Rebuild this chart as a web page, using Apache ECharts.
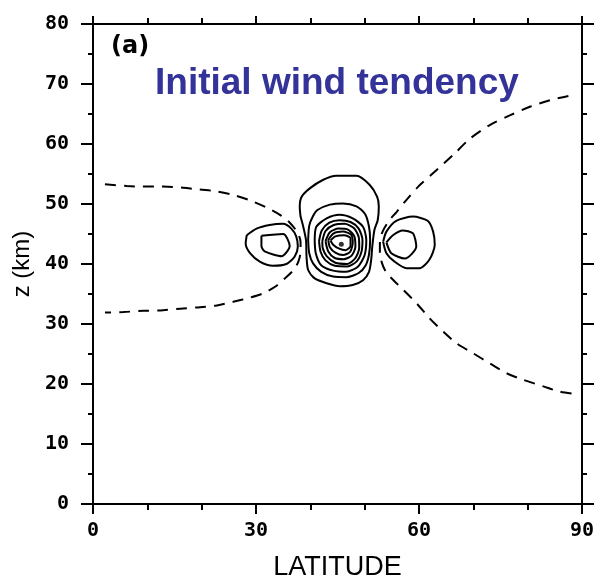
<!DOCTYPE html>
<html>
<head>
<meta charset="utf-8">
<script src="https://cdn.jsdelivr.net/npm/echarts@6/dist/echarts.min.js"></script>
<style>
  html, body { margin: 0; padding: 0; background: #fff; }
  #chart { width: 599px; height: 578px; }
</style>
</head>
<body>
<div id="chart"></div>
<script>
// Axis ranges and tick labels
const latTicks = [0, 30, 60, 90];
const zTicks = [0, 10, 20, 30, 40, 50, 60, 70, 80];

// Zero contours (dashed), [latitude, z km]
const zeroWest = [
  [2.2, 53.3], [6.2, 53.0], [9.3, 52.9], [12.9, 52.9], [16.6, 52.7], [19.7, 52.4],
  [22.8, 52.1], [25.8, 51.5], [28.9, 50.6], [32.0, 49.4], [34.4, 48.2], [36.3, 46.8],
  [37.5, 45.4], [38.2, 43.7], [38.2, 42.1], [37.8, 40.4], [36.9, 39.0], [35.3, 37.6],
  [33.5, 36.2], [31.3, 35.1], [28.9, 34.4], [25.8, 33.7], [22.8, 33.1], [19.7, 32.8],
  [16.6, 32.6], [12.9, 32.3], [9.3, 32.2], [5.6, 32.0], [2.2, 31.9]
];
const zeroEast = [
  [87.5, 68.0], [84.1, 67.3], [80.4, 66.2], [76.8, 64.8], [73.1, 63.2], [69.4, 60.9],
  [66.3, 58.2], [63.3, 55.7], [60.2, 53.2], [57.7, 50.7], [55.9, 48.7], [54.4, 47.1],
  [53.3, 45.4], [52.8, 43.7], [52.8, 42.1], [53.1, 40.4], [53.9, 38.7], [55.3, 37.3],
  [57.1, 35.7], [59.6, 33.4], [62.0, 30.9], [64.5, 28.7], [66.9, 26.8], [70.0, 25.1],
  [73.1, 23.4], [76.1, 21.8], [79.2, 20.7], [82.9, 19.6], [86.0, 18.7], [88.1, 18.4]
];

// Central maximum, outermost to innermost contour
const core1 = [
  [38.2, 47.9], [38.05, 49.55], [38.4, 51.2], [39.9, 52.6], [42.3, 54.0], [44.8, 54.7],
  [48.5, 54.7], [50.9, 53.2], [52.3, 51.2], [52.6, 49.6], [52.4, 47.3], [51.8, 45.7],
  [51.4, 42.9], [51.2, 40.7], [50.8, 38.7], [49.7, 37.3], [47.8, 36.5], [45.4, 36.3],
  [43.0, 36.8], [40.8, 37.6], [39.6, 39.0], [39.3, 41.2], [39.2, 44.0], [38.7, 46.2],
  [38.2, 47.9]
];
const core2 = [
  [39.6, 44.0], [39.8, 46.4], [40.5, 48.0], [41.3, 49.0], [43.6, 49.9], [46.0, 50.1],
  [48.5, 49.6], [50.1, 48.3], [50.8, 46.2], [51.0, 44.0], [50.8, 41.6], [50.2, 39.8],
  [48.9, 38.5], [46.6, 37.8], [44.2, 37.9], [42.0, 38.7], [40.5, 40.1], [39.8, 41.8],
  [39.6, 44.0]
];
const core3 = [
  [40.8, 44.0], [41.1, 46.2], [43.0, 47.6], [45.4, 48.2], [47.8, 47.6], [49.7, 46.2],
  [50.3, 44.0], [50.0, 41.5], [48.8, 39.6], [46.6, 38.7], [44.2, 38.9], [42.0, 39.8],
  [41.0, 41.8], [40.8, 44.0]
];
const core4 = [
  [41.6, 43.8], [42.1, 45.6], [43.5, 46.9], [45.4, 47.3], [47.4, 47.0], [48.9, 45.9],
  [49.6, 44.0], [49.4, 42.0], [48.5, 40.4], [46.8, 39.6], [44.5, 39.7], [42.8, 40.6],
  [41.9, 42.0], [41.6, 43.8]
];
const core5 = [
  [42.2, 43.8], [42.8, 45.5], [44.3, 46.5], [46.3, 46.7], [48.0, 46.0], [48.9, 44.5],
  [49.0, 42.7], [48.3, 41.0], [46.8, 40.0], [44.6, 40.2], [43.0, 41.3], [42.3, 42.6],
  [42.2, 43.8]
];
const core6 = [
  [42.8, 43.8], [43.6, 45.3], [45.2, 45.9], [47.0, 45.7], [48.1, 44.6], [48.3, 42.9],
  [47.6, 41.4], [46.1, 40.8], [44.5, 41.0], [43.3, 42.1], [42.8, 43.8]
];
const core7 = [
  [43.3, 44.0], [44.3, 45.1], [46.0, 45.4], [47.5, 44.9], [47.8, 43.6], [47.3, 42.0],
  [46.0, 41.5], [44.6, 41.9], [43.6, 42.8], [43.3, 44.0]
];
const core8 = [
  [43.7, 43.9], [44.6, 44.6], [46.2, 44.8], [47.4, 44.3], [47.4, 43.0], [46.5, 42.3],
  [45.2, 42.6], [44.2, 43.2], [43.7, 43.9]
];
const corePeak = [[45.7, 43.3]];

// Side maxima
const westOuter = [
  [28.3, 44.8], [30.1, 45.9], [32.5, 46.5], [35.0, 46.7], [36.5, 45.9], [37.4, 44.6],
  [37.7, 42.9], [37.1, 41.2], [35.6, 40.0], [33.1, 39.7], [30.7, 40.4], [28.9, 41.8],
  [28.1, 43.4], [28.3, 44.8]
];
const westInner = [
  [31.0, 44.7], [35.0, 45.0], [36.2, 43.0], [34.7, 41.3], [31.6, 42.1], [31.0, 43.0],
  [31.0, 44.7]
];
const eastOuter = [
  [53.4, 43.7], [54.0, 45.4], [55.8, 47.2], [58.9, 47.9], [61.6, 47.2], [62.6, 45.4],
  [62.9, 43.2], [61.9, 40.7], [60.1, 39.3], [57.7, 39.3], [55.5, 40.4], [54.0, 41.8],
  [53.4, 43.7]
];
const eastInner = [
  [54.0, 43.6], [55.2, 44.8], [57.0, 45.6], [58.9, 45.1], [59.5, 42.9], [57.4, 40.9],
  [54.9, 41.8], [54.0, 43.6]
];

const solidContours = [core1, core2, core3, core4, core5, core6, core7, core8,
  westOuter, westInner, eastOuter, eastInner];
const dashedContours = [zeroWest, zeroEast];

const chart = echarts.init(document.getElementById('chart'), null, { renderer: 'canvas' });

const ink = '#000';
const tickFont = { color: ink, fontFamily: 'DejaVu Sans Mono', fontSize: 20, fontWeight: 'bold' };

function xAxisDef(withLabels) {
  return {
    type: 'value', min: 0, max: 90, interval: 30,
    position: withLabels ? 'bottom' : 'top',
    axisLine: { onZero: false, lineStyle: { color: ink, width: 2 } },
    axisTick: { show: true, length: withLabels ? 10 : 8, lineStyle: { color: ink, width: 2 } },
    minorTick: { show: true, splitNumber: 3, length: 6, lineStyle: { color: ink, width: 2 } },
    splitLine: { show: false },
    minorSplitLine: { show: false },
    axisLabel: withLabels ? Object.assign({ show: true, margin: 17,
      formatter: v => latTicks.includes(v) ? String(v) : '' }, tickFont) : { show: false },
    name: withLabels ? 'LATITUDE' : '',
    nameLocation: 'middle',
    nameGap: 50,
    nameTextStyle: { color: ink, fontFamily: 'Liberation Sans', fontSize: 27, fontWeight: 'normal' }
  };
}
function yAxisDef(withLabels) {
  return {
    type: 'value', min: 0, max: 80, interval: 10,
    position: withLabels ? 'left' : 'right',
    axisLine: { onZero: false, lineStyle: { color: ink, width: 2 } },
    axisTick: { show: true, length: 12, lineStyle: { color: ink, width: 2 } },
    minorTick: { show: true, splitNumber: 2, length: 5, lineStyle: { color: ink, width: 2 } },
    splitLine: { show: false },
    minorSplitLine: { show: false },
    axisLabel: withLabels ? Object.assign({ show: true, margin: 24,
      formatter: v => zTicks.includes(v) ? String(v) : '' }, tickFont) : { show: false },
    name: withLabels ? 'z (km)' : '',
    nameLocation: 'middle',
    nameGap: 56,
    nameTextStyle: { color: ink, fontFamily: 'Liberation Sans', fontSize: 24, fontWeight: 'normal' }
  };
}

const series = [];
solidContours.forEach(c => series.push({
  type: 'line', data: c, xAxisIndex: 0, yAxisIndex: 0,
  symbol: 'none', smooth: 0.25, silent: true,
  lineStyle: { color: ink, width: 2 }
}));
dashedContours.forEach(c => series.push({
  type: 'line', data: c, xAxisIndex: 0, yAxisIndex: 0,
  symbol: 'none', smooth: 0.3, silent: true,
  lineStyle: { color: ink, width: 2, type: [11, 8] }
}));
series.push({
  type: 'scatter', data: corePeak, xAxisIndex: 0, yAxisIndex: 0,
  symbol: 'circle', symbolSize: 5, silent: true,
  itemStyle: { color: ink }
});

chart.setOption({
  animation: false,
  backgroundColor: '#fff',
  grid: { left: 93, right: 17, top: 24, bottom: 74, containLabel: false, outerBoundsMode: 'none' },
  xAxis: [xAxisDef(true), xAxisDef(false)],
  yAxis: [yAxisDef(true), yAxisDef(false)],
  graphic: [
    { type: 'text', left: 111, top: 35, silent: true,
      style: { text: '(a)', fill: ink, font: 'bold 24px "DejaVu Sans"' } },
    { type: 'text', left: 155, top: 65, silent: true,
      style: { text: 'Initial wind tendency', fill: '#333399', font: 'bold 37px "Liberation Sans"' } }
  ],
  series: series
});
</script>
</body>
</html>
